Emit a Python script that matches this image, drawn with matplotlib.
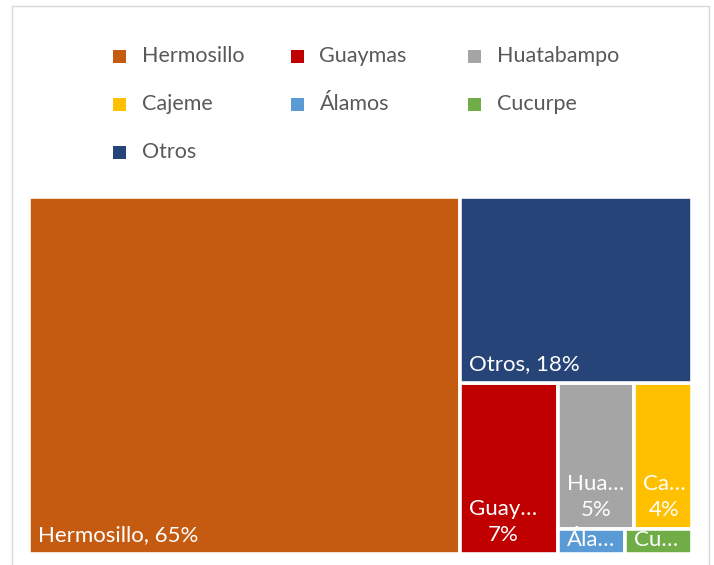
import matplotlib
matplotlib.use("Agg")
import matplotlib.pyplot as plt
from matplotlib.patches import Rectangle
from matplotlib.lines import Line2D

# datos (porcentaje aproximado)
municipios = ["Hermosillo", "Guaymas", "Huatabampo", "Cajeme", "Álamos", "Cucurpe", "Otros"]
valores = [65.2, 7.1, 4.7, 3.6, 0.7, 0.7, 18.2]
colores = ["#C55A11", "#C00000", "#A5A5A5", "#FFC000", "#5B9BD5", "#70AD47", "#264478"]

# franjas en el orden en que Excel acomoda la treemap
grupos = [["Hermosillo"], ["Otros"], ["Guaymas"], ["Huatabampo", "Cajeme"], ["Álamos", "Cucurpe"]]

FW, FH = 714, 565
FAM = ["Lato", "DejaVu Sans"]
FS = 15.5


def px(x, y):
    return x / FW, 1 - y / FH


def layout(grupos, vals, x, y, w, h):
    rects = {}
    for i, g in enumerate(grupos):
        total = sum(vals[n] for gg in grupos[i:] for n in gg)
        s = sum(vals[n] for n in g)
        last = i == len(grupos) - 1
        corte_vertical = w >= h
        if last:
            sx, sy, sw, sh = x, y, w, h
        elif corte_vertical:
            sx, sy, sw, sh = x, y, w * s / total, h
            x, w = x + sw, w - sw
        else:
            sx, sy, sw, sh = x, y, w, h * s / total
            y, h = y + sh, h - sh
        # direccion de los elementos dentro de la franja
        if last:
            lado = sw >= sh
        else:
            lado = not corte_vertical
        pos = 0
        for n in g:
            f = vals[n] / s
            if lado:
                rects[n] = (sx + pos, sy, sw * f, sh)
                pos += sw * f
            else:
                rects[n] = (sx, sy + pos, sw, sh * f)
                pos += sh * f
    return rects


fig = plt.figure(figsize=(FW / 100, FH / 100), dpi=100)
renderer = fig.canvas.get_renderer()


def medida(s, fs=FS):
    t = fig.text(0, 0, s, fontsize=fs, family=FAM)
    bb = t.get_window_extent(renderer)
    t.remove()
    return bb.width, bb.height


# borde del area del grafico
for xs, ys in [([12, 12], [6, 600]), ([12, 709], [6, 6]), ([709, 709], [6, 600])]:
    p = [px(a, b) for a, b in zip(xs, ys)]
    fig.add_artist(Line2D([p[0][0], p[1][0]], [p[0][1], p[1][1]], color="#D9D9D9", lw=1))

# leyenda (filas de 3, como en Excel)
for i, (nom, col) in enumerate(zip(municipios, colores)):
    fila, c = divmod(i, 3)
    x0 = 113 + c * 177.5
    yc = 56 + fila * 48
    fx, fy = px(x0, yc + 6.5)
    fig.add_artist(Rectangle((fx, fy), 13 / FW, 13 / FH, transform=fig.transFigure,
                             facecolor=col, edgecolor="none"))
    tx, ty = px(x0 + 29, yc)
    fig.text(tx, ty, nom, fontsize=FS, family=FAM, color="#595959", va="center", ha="left")

# area de la treemap
L, T, R, B = 29, 197, 692, 554
W, H = R - L, B - T
ax = fig.add_axes([L / FW, 1 - B / FH, W / FW, H / FH])
ax.set_xlim(0, W)
ax.set_ylim(H, 0)
ax.axis("off")

vals = dict(zip(municipios, valores))
cols = dict(zip(municipios, colores))
total = sum(valores)
rects = layout(grupos, vals, 0, 0, W, H)

FSL = 16
pad = 9
for n in municipios:
    x, y, w, h = rects[n]
    r = Rectangle((x, y), w, h, facecolor=cols[n], edgecolor="white", lw=2.6, clip_on=False)
    ax.add_patch(r)

    pct = "{:.0f}%".format(vals[n] / total * 100)
    disp_w = w - 2 * pad + 5
    una = "{}, {}".format(n, pct)
    if medida(una, FSL)[0] <= disp_w:
        texto = una
    else:
        nom = n
        if medida(nom, FSL)[0] > disp_w:
            k = len(n) - 1
            while k > 1 and medida(n[:k] + "…", FSL)[0] > disp_w:
                k -= 1
            nom = n[:k] + "…"
        texto = nom + "\n" + pct
        if medida(texto, FSL)[1] + 2 * pad > h:
            texto = nom

    alto = medida(texto, FSL)[1]
    if alto + 2 * pad > h:
        t = ax.text(x + pad, y + 1, texto, fontsize=FSL, family=FAM, color="white",
                    ha="left", va="top", multialignment="center")
    else:
        t = ax.text(x + pad, y + h - pad, texto, fontsize=FSL, family=FAM, color="white",
                    ha="left", va="bottom", multialignment="center", linespacing=1.4)
    t.set_clip_path(r)

fig.savefig("out.png", dpi=100)
